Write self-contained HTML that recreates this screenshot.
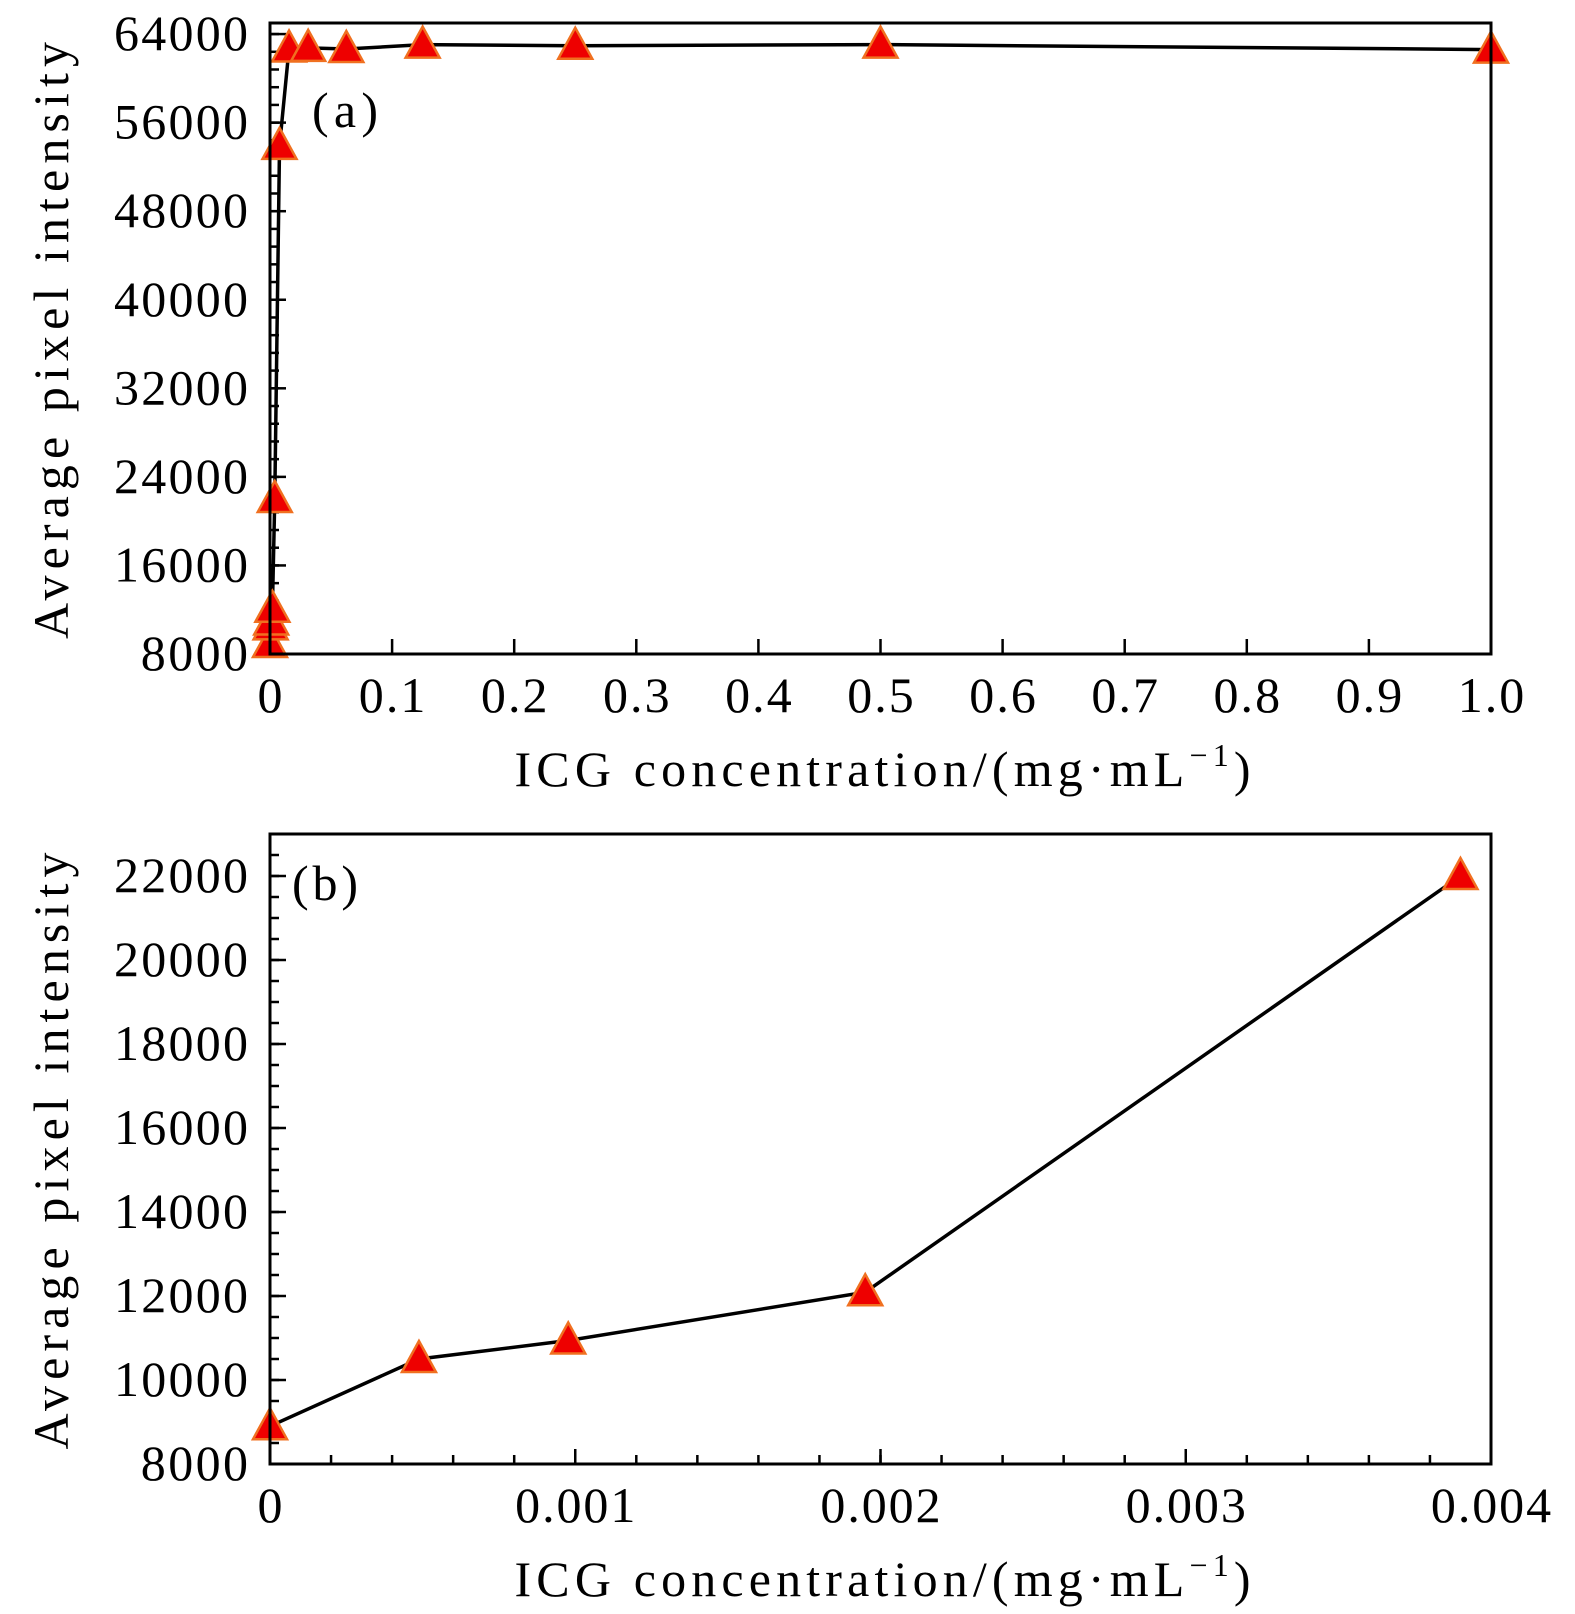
<!DOCTYPE html>
<html><head><meta charset="utf-8"><style>
html,body{margin:0;padding:0;background:#fff;}
svg{display:block;font-family:"Liberation Serif",serif;}
</style></head><body>
<svg id="chart" width="1575" height="1614" viewBox="0 0 1575 1614"></svg>
<script>
// Panel (a) data
const xA = [0, 0.000488, 0.000977, 0.00195, 0.0039, 0.0078, 0.0156, 0.03125, 0.0625, 0.125, 0.25, 0.5, 1.0];
const yA = [8900, 10500, 10940, 12090, 22000, 53900, 62700, 62750, 62650, 63050, 62950, 63050, 62600];
const xTicksA = [0,0.1,0.2,0.3,0.4,0.5,0.6,0.7,0.8,0.9,1.0];
const xTickLabelsA = ["0","0.1","0.2","0.3","0.4","0.5","0.6","0.7","0.8","0.9","1.0"];
const yTicksA = [8000,16000,24000,32000,40000,48000,56000,64000];
// Panel (b) data
const xB = [0, 0.000488, 0.000977, 0.00195, 0.0039];
const yB = [8900, 10500, 10940, 12090, 22000];
const xTicksB = [0,0.001,0.002,0.003,0.004];
const xTickLabelsB = ["0","0.001","0.002","0.003","0.004"];
const yTicksB = [8000,10000,12000,14000,16000,18000,20000,22000];

const NS="http://www.w3.org/2000/svg";
const svg=document.getElementById('chart');
function el(tag,attrs,parent){const e=document.createElementNS(NS,tag);for(const k in attrs)e.setAttribute(k,attrs[k]);(parent||svg).appendChild(e);return e;}

function panel(o){
  const g=el('g',{});
  
  
  const sx=v=>o.L+(v-o.x0)/(o.x1-o.x0)*(o.R-o.L);
  const sy=v=>o.B-(v-o.y0)/(o.y1-o.y0)*(o.B-o.T);
  for(let v=o.y0;v<=o.y1+1e-9;v+=o.yMinor){
    const t=el('line',{x1:o.L,x2:o.L+9,y1:sy(v),y2:sy(v),stroke:'#000','stroke-width':2.5},g);
    
    
  }
  o.yTicks.forEach(v=>{
    const t=el('line',{x1:o.L,x2:o.L+16,y1:sy(v),y2:sy(v),stroke:'#000','stroke-width':2.5},g);
    
    
    const s=String(v);
    const lb=el('text',{x:o.L-22,y:sy(v)+16,'text-anchor':'end','font-size':50,textLength:s.length*26.8,lengthAdjust:'spacing'},g);
    lb.textContent=s;
    
    
  });
  if(o.xMinor){
    for(let v=o.x0;v<=o.x1+1e-12;v+=o.xMinor){
      const t=el('line',{x1:sx(v),x2:sx(v),y1:o.B,y2:o.B-9,stroke:'#000','stroke-width':2.5},g);
      
      
    }
  }
  o.xTicks.forEach((v,i)=>{
    const t=el('line',{x1:sx(v),x2:sx(v),y1:o.B,y2:o.B-15,stroke:'#000','stroke-width':2.5},g);
    
    
    const s=o.xLabels[i];
    const w=s.replace('.','').length*26.8+(s.includes('.')?13:0);
    const lb=el('text',{x:sx(v),y:o.B+58,'text-anchor':'middle','font-size':50,textLength:w,lengthAdjust:'spacing'},g);
    lb.textContent=s;
    
    
  });
  const pts=o.xs.map((x,i)=>sx(x)+','+sy(o.ys[i])).join(' ');
  const pl=el('polyline',{points:pts,fill:'none',stroke:'#000','stroke-width':3.5},g);
  
  
  o.xs.forEach((x,i)=>{
    const cx=sx(x),cy=sy(o.ys[i]);
    const p=el('polygon',{points:`${cx},${cy-18} ${cx-17},${cy+13} ${cx+17},${cy+13}`,fill:'#ee0000',stroke:'#f07020','stroke-width':2.5},g);
    
    
  });
  const fr=el('rect',{x:o.L,y:o.T,width:o.R-o.L,height:o.B-o.T,fill:'none',stroke:'#000','stroke-width':3},g);
  
  
  const pt=el('text',{x:o.labX,y:o.labY,'font-size':50,textLength:66,lengthAdjust:'spacing'},g);
  pt.textContent=o.panelLabel;
  
  
  const xt=el('text',{x:(o.L+o.R)/2+2,y:o.B+132,'text-anchor':'middle','font-size':50,textLength:736,lengthAdjust:'spacing'},g);
  xt.innerHTML='ICG concentration/(mg·mL<tspan dy="-20" font-size="32">−1</tspan><tspan dy="20">)</tspan>';
  
  
  const yt=el('text',{x:0,y:0,'text-anchor':'middle','font-size':50,textLength:597,lengthAdjust:'spacing',transform:`translate(68,${(o.T+o.B)/2+2}) rotate(-90)`},g);
  yt.textContent='Average pixel intensity';
  
  
}

panel({name:'panel-a',L:270,R:1491,T:23,B:654,x0:0,x1:1,y0:8000,y1:65000,yTicks:yTicksA,yMinor:1600,
  xTicks:xTicksA,xLabels:xTickLabelsA,xMinor:null,xs:xA,ys:yA,panelLabel:'(a)',labX:312,labY:127});
panel({name:'panel-b',L:270,R:1491,T:834,B:1464,x0:0,x1:0.004,y0:8000,y1:23000,yTicks:yTicksB,yMinor:500,
  xTicks:xTicksB,xLabels:xTickLabelsB,xMinor:0.0002,xs:xB,ys:yB,panelLabel:'(b)',labX:292,labY:900});
</script>
</body></html>
